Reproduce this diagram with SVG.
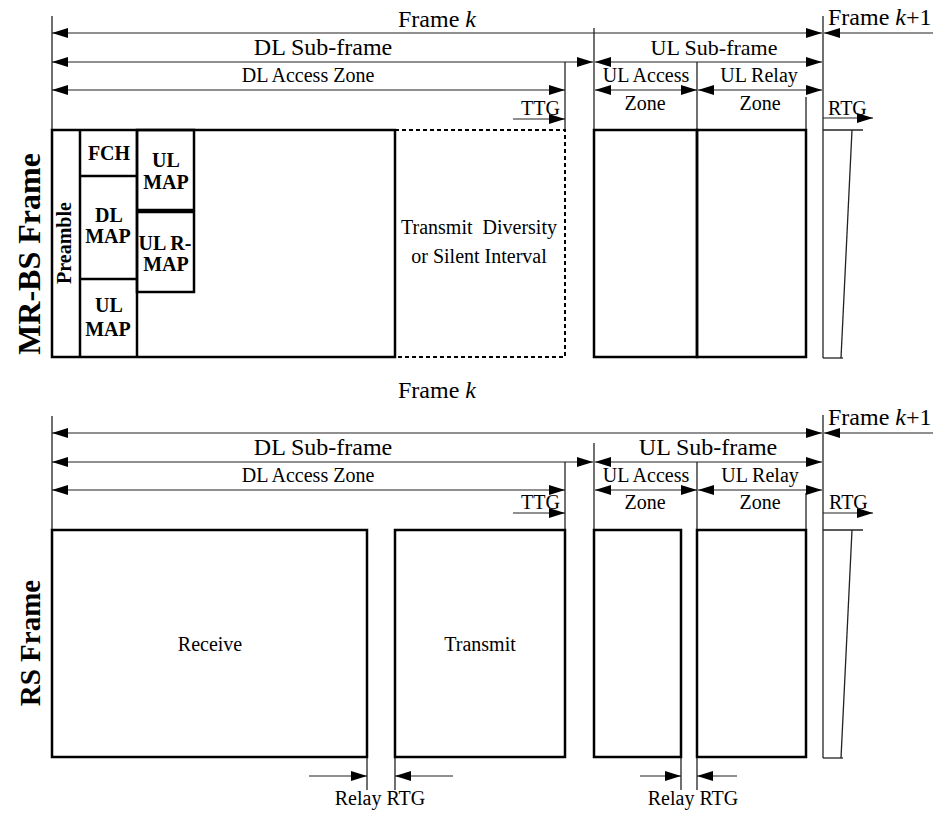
<svg xmlns="http://www.w3.org/2000/svg" width="933" height="816" viewBox="0 0 933 816">
<style>
text{font-family:"Liberation Serif","Times New Roman","DejaVu Serif",serif;fill:#000}
.big{font-size:24px}
.mid{font-size:20px}
.c{text-anchor:middle}
.b{font-weight:bold}
.box{fill:none;stroke:#000;stroke-width:2.5}
.thin{fill:none;stroke:#222;stroke-width:1.3}
.arr{fill:none;stroke:#222;stroke-width:1.2}
.dash{fill:none;stroke:#000;stroke-width:2;stroke-dasharray:4 3}
</style>
<defs>
<marker id="ah" markerUnits="userSpaceOnUse" markerWidth="16" markerHeight="10" refX="16" refY="5" orient="auto-start-reverse">
<path d="M0,0 L16,5 L0,10 z" fill="#000"/>
</marker>
</defs>
<rect width="933" height="816" fill="#fff"/>

<!-- ===== MR-BS frame (top) ===== -->
<g id="mrbs-label"><text class="b" font-size="32" transform="translate(40,254) rotate(-90)" text-anchor="middle">MR-BS Frame</text></g>
<g id="mrbs-guides">
<line class="thin" x1="52" y1="16" x2="52" y2="130"/>
<line class="thin" x1="594" y1="28" x2="594" y2="130"/>
<line class="thin" x1="565" y1="62" x2="565" y2="130"/>
<line class="thin" x1="697" y1="62" x2="697" y2="130"/>
<line class="thin" x1="806" y1="97" x2="806" y2="130"/>
<line class="thin" x1="823" y1="16" x2="823" y2="358"/>
</g>
<g id="mrbs-dl-zone">
<rect class="box" x="52" y="130" width="343" height="227"/>
</g>
<g id="mrbs-preamble">
<line class="box" x1="80" y1="130" x2="80" y2="357"/>
<text class="b" font-size="20" transform="translate(71,243) rotate(-90)" text-anchor="middle">Preamble</text>
</g>
<g id="mrbs-fch">
<line class="box" x1="137" y1="130" x2="137" y2="357"/>
<line class="box" x1="80" y1="176" x2="137" y2="176"/>
<text class="b c" font-size="20" x="109" y="160">FCH</text>
</g>
<g id="mrbs-dlmap">
<line class="box" x1="80" y1="279" x2="137" y2="279"/>
<text class="b c" font-size="20" x="109" y="222">DL</text>
<text class="b c" font-size="20" x="108" y="243">MAP</text>
</g>
<g id="mrbs-ulmap2">
<text class="b c" font-size="20" x="109" y="312">UL</text>
<text class="b c" font-size="20" x="108" y="336">MAP</text>
</g>
<g id="mrbs-ulmap1">
<rect class="box" x="137" y="130" width="57" height="80"/>
<text class="b c" font-size="20" x="166" y="167">UL</text>
<text class="b c" font-size="20" x="166" y="189">MAP</text>
</g>
<g id="mrbs-ulrmap">
<rect class="box" x="137" y="212" width="57" height="80"/>
<text class="b c" font-size="20" x="165" y="250">UL R-</text>
<text class="b c" font-size="20" x="166" y="271">MAP</text>
</g>
<g id="mrbs-silent">
<path class="dash" d="M395,130 H565 V357 H395"/>
<text class="mid c" x="479" y="234" xml:space="preserve">Transmit  Diversity</text>
<text class="mid c" x="479" y="263">or Silent Interval</text>
</g>
<g id="mrbs-ulaccess"><rect class="box" x="594" y="130" width="103" height="227"/></g>
<g id="mrbs-ulrelay"><rect class="box" x="697" y="130" width="109" height="227"/></g>
<g id="mrbs-next">
<line class="thin" x1="823" y1="130" x2="863" y2="130"/>
<line class="thin" x1="852" y1="130" x2="841" y2="358"/>
<line class="thin" x1="823" y1="358" x2="843" y2="358"/>
</g>
<g id="mrbs-texts">
<text class="big c" x="437" y="27">Frame <tspan font-style="italic">k</tspan></text>
<text class="big" x="828" y="25">Frame <tspan font-style="italic">k</tspan>+1</text>
<text class="big c" x="323" y="55">DL Sub-frame</text>
<text class="c" x="714" y="55" font-size="22">UL Sub-frame</text>
<text class="mid c" x="308" y="82">DL Access Zone</text>
<text class="mid c" x="646" y="82">UL Access</text>
<text class="mid c" x="645" y="110">Zone</text>
<text class="mid c" x="759" y="82">UL Relay</text>
<text class="mid c" x="760" y="110">Zone</text>
<text class="mid" x="521" y="115">TTG</text>
<text class="mid" x="828" y="115">RTG</text>
</g>

<!-- ===== RS frame (bottom) ===== -->
<g id="rs-label"><text class="b" font-size="29" transform="translate(40,643) rotate(-90)" text-anchor="middle">RS Frame</text></g>
<g id="rs-guides">
<line class="thin" x1="52" y1="416" x2="52" y2="530"/>
<line class="thin" x1="594" y1="443" x2="594" y2="530"/>
<line class="thin" x1="565" y1="462" x2="565" y2="530"/>
<line class="thin" x1="697" y1="462" x2="697" y2="530"/>
<line class="thin" x1="806" y1="493" x2="806" y2="530"/>
<line class="thin" x1="823" y1="415" x2="823" y2="758"/>
<line class="thin" x1="367" y1="757" x2="367" y2="790"/>
<line class="thin" x1="395" y1="757" x2="395" y2="790"/>
<line class="thin" x1="681" y1="757" x2="681" y2="790"/>
<line class="thin" x1="697" y1="757" x2="697" y2="790"/>
</g>
<g id="rs-receive">
<rect class="box" x="52" y="530" width="315" height="227"/>
<text class="mid c" x="210" y="651">Receive</text>
</g>
<g id="rs-transmit">
<rect class="box" x="395" y="530" width="170" height="227"/>
<text class="mid c" x="480" y="651">Transmit</text>
</g>
<g id="rs-ulaccess"><rect class="box" x="594" y="530" width="87" height="227"/></g>
<g id="rs-ulrelay"><rect class="box" x="697" y="530" width="109" height="227"/></g>
<g id="rs-next">
<line class="thin" x1="823" y1="530" x2="863" y2="530"/>
<line class="thin" x1="852" y1="530" x2="841" y2="758"/>
<line class="thin" x1="823" y1="758" x2="843" y2="758"/>
</g>
<g id="rs-texts">
<text class="big c" x="437" y="398">Frame <tspan font-style="italic">k</tspan></text>
<text class="big" x="828" y="425">Frame <tspan font-style="italic">k</tspan>+1</text>
<text class="big c" x="323" y="455">DL Sub-frame</text>
<text class="big c" x="708" y="455">UL Sub-frame</text>
<text class="mid c" x="308" y="482">DL Access Zone</text>
<text class="mid c" x="646" y="482">UL Access</text>
<text class="mid c" x="645" y="509">Zone</text>
<text class="mid c" x="760" y="482">UL Relay</text>
<text class="mid c" x="760" y="509">Zone</text>
<text class="mid" x="521" y="509">TTG</text>
<text class="mid" x="829" y="509">RTG</text>
<text class="mid c" x="380" y="805">Relay RTG</text>
<text class="mid c" x="693" y="805">Relay RTG</text>
</g>

<!-- ===== connectors ===== -->
<g id="connectors">
<line class="arr" x1="52" y1="33" x2="822" y2="33" marker-start="url(#ah)" marker-end="url(#ah)"/>
<line class="arr" x1="933" y1="33" x2="824" y2="33" marker-end="url(#ah)"/>
<line class="arr" x1="52" y1="62" x2="593" y2="62" marker-start="url(#ah)" marker-end="url(#ah)"/>
<line class="arr" x1="595" y1="62" x2="822" y2="62" marker-start="url(#ah)" marker-end="url(#ah)"/>
<line class="arr" x1="52" y1="90" x2="565" y2="90" marker-start="url(#ah)" marker-end="url(#ah)"/>
<line class="arr" x1="595" y1="90" x2="697" y2="90" marker-start="url(#ah)" marker-end="url(#ah)"/>
<line class="arr" x1="698" y1="90" x2="822" y2="90" marker-start="url(#ah)" marker-end="url(#ah)"/>
<line class="arr" x1="513" y1="119" x2="565" y2="119" marker-end="url(#ah)"/>
<line class="arr" x1="823" y1="118" x2="873" y2="118" marker-end="url(#ah)"/>

<line class="arr" x1="52" y1="433" x2="822" y2="433" marker-start="url(#ah)" marker-end="url(#ah)"/>
<line class="arr" x1="933" y1="433" x2="824" y2="433" marker-end="url(#ah)"/>
<line class="arr" x1="52" y1="462" x2="593" y2="462" marker-start="url(#ah)" marker-end="url(#ah)"/>
<line class="arr" x1="595" y1="462" x2="822" y2="462" marker-start="url(#ah)" marker-end="url(#ah)"/>
<line class="arr" x1="52" y1="490" x2="565" y2="490" marker-start="url(#ah)" marker-end="url(#ah)"/>
<line class="arr" x1="595" y1="490" x2="697" y2="490" marker-start="url(#ah)" marker-end="url(#ah)"/>
<line class="arr" x1="698" y1="490" x2="822" y2="490" marker-start="url(#ah)" marker-end="url(#ah)"/>
<line class="arr" x1="513" y1="513" x2="565" y2="513" marker-end="url(#ah)"/>
<line class="arr" x1="823" y1="513" x2="873" y2="513" marker-end="url(#ah)"/>

<line class="arr" x1="309" y1="776" x2="367" y2="776" marker-end="url(#ah)"/>
<line class="arr" x1="453" y1="776" x2="395" y2="776" marker-end="url(#ah)"/>
<line class="arr" x1="640" y1="776" x2="681" y2="776" marker-end="url(#ah)"/>
<line class="arr" x1="737" y1="776" x2="697" y2="776" marker-end="url(#ah)"/>
</g>
</svg>
